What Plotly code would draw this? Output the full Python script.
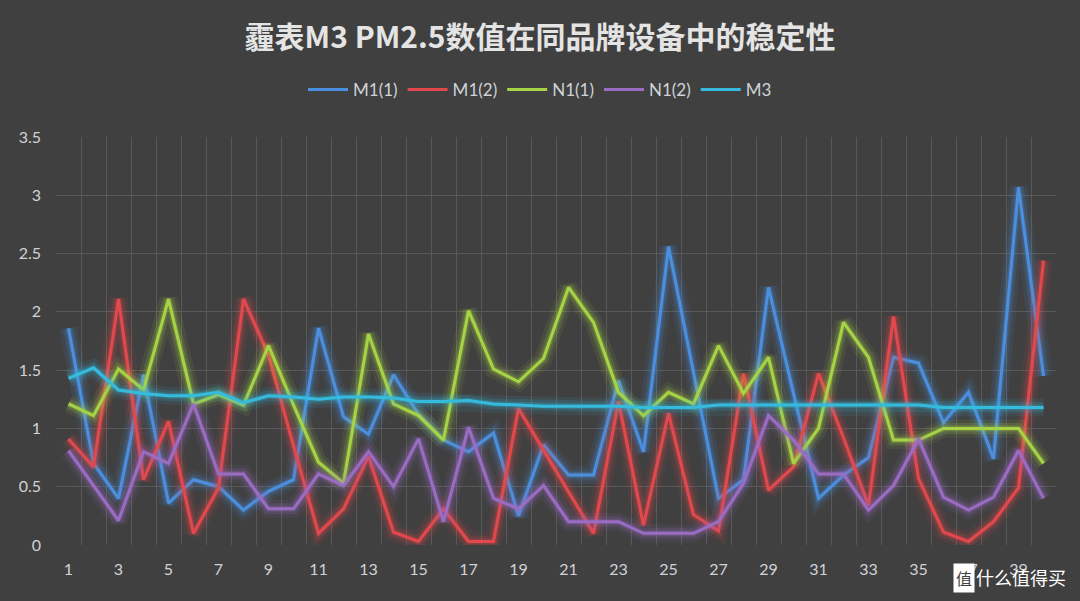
import plotly.graph_objects as go

x_vals = list(range(1, 41))

m1_1 = [1.86, 0.70, 0.40, 1.46, 0.36, 0.56, 0.50, 0.30, 0.46, 0.56,
        1.86, 1.10, 0.95, 1.46, 1.12, 0.90, 0.80, 0.96, 0.25, 0.86,
        0.60, 0.60, 1.41, 0.80, 2.56, 1.47, 0.40, 0.56, 2.21, 1.30,
        0.40, 0.60, 0.75, 1.61, 1.56, 1.05, 1.31, 0.74, 3.07, 1.45]
m1_2 = [0.91, 0.67, 2.11, 0.56, 1.06, 0.10, 0.49, 2.11, 1.63, 0.85,
        0.10, 0.31, 0.76, 0.11, 0.03, 0.31, 0.03, 0.03, 1.17, 0.81,
        0.45, 0.10, 1.23, 0.17, 1.13, 0.26, 0.12, 1.47, 0.47, 0.67,
        1.47, 0.92, 0.34, 1.96, 0.57, 0.11, 0.03, 0.20, 0.49, 2.44]
n1_1 = [1.21, 1.11, 1.51, 1.33, 2.11, 1.21, 1.29, 1.20, 1.71, 1.20,
        0.71, 0.53, 1.81, 1.21, 1.11, 0.90, 2.01, 1.51, 1.40, 1.60,
        2.21, 1.91, 1.31, 1.11, 1.31, 1.21, 1.71, 1.30, 1.61, 0.70,
        1.00, 1.91, 1.61, 0.90, 0.90, 1.00, 1.00, 1.00, 1.00, 0.70]
n1_2 = [0.81, 0.51, 0.21, 0.80, 0.70, 1.21, 0.61, 0.61, 0.31, 0.31,
        0.61, 0.51, 0.80, 0.50, 0.91, 0.20, 1.01, 0.40, 0.31, 0.51,
        0.20, 0.20, 0.20, 0.10, 0.10, 0.10, 0.20, 0.53, 1.11, 0.90,
        0.61, 0.61, 0.30, 0.51, 0.91, 0.41, 0.30, 0.41, 0.81, 0.40]
m3 = [1.43, 1.52, 1.33, 1.30, 1.28, 1.28, 1.31, 1.22, 1.28, 1.27,
      1.25, 1.27, 1.27, 1.26, 1.23, 1.23, 1.24, 1.21, 1.20, 1.19,
      1.19, 1.19, 1.19, 1.18, 1.18, 1.18, 1.20, 1.20, 1.20, 1.20,
      1.20, 1.20, 1.20, 1.20, 1.20, 1.18, 1.18, 1.18, 1.18, 1.18]

series_names = ["M1(1)", "M1(2)", "N1(1)", "N1(2)", "M3"]
series_values = [m1_1, m1_2, n1_1, n1_2, m3]
series_colors = [(75, 143, 222), (226, 72, 76), (166, 212, 68), (155, 108, 196), (52, 187, 222)]

x_tick_vals = list(range(1, 41, 2))
y_tick_vals = [0, 0.5, 1, 1.5, 2, 2.5, 3, 3.5]

title_text = "霾表M3 PM2.5数值在同品牌设备中的稳定性"

BG = "#404040"
GRID = "#595959"
TXT = "#cfd3d8"

fig = go.Figure()
for name, vals, (r, g, b) in zip(series_names, series_values, series_colors):
    for w, a in [(18, 0.09), (11, 0.16), (6, 0.25)]:
        fig.add_trace(go.Scatter(
            x=x_vals, y=vals, mode="lines", showlegend=False, hoverinfo="skip",
            line=dict(color=f"rgba({r},{g},{b},{a})", width=w)))
    fig.add_trace(go.Scatter(
        x=x_vals, y=vals, mode="lines", name=name,
        line=dict(color=f"rgb({r},{g},{b})", width=3)))

fig.update_layout(
    width=1080, height=601, autosize=False,
    paper_bgcolor=BG, plot_bgcolor=BG,
    margin=dict(l=56, r=24, t=137, b=56),
    title=dict(text=title_text, x=0.5, xanchor="center", y=1 - 37 / 601, yanchor="middle",
               yref="container",
               font=dict(family="Noto Sans CJK SC", size=30, color="#e4e4e4", weight="bold")),
    legend=dict(orientation="h", x=0.5, xanchor="center", xref="container",
                y=1 - 90 / 601, yanchor="middle", yref="container",
                font=dict(family="Lato", size=17, color=TXT),
                bgcolor="rgba(0,0,0,0)", itemwidth=40, tracegroupgap=0),
    xaxis=dict(range=[0.5, 40.5], tickmode="array", tickvals=x_tick_vals,
               ticktext=[str(v) for v in x_tick_vals], showgrid=False, zeroline=False,
               showline=False, ticks="", ticklabelstandoff=13,
               tickfont=dict(family="Lato", size=16, color=TXT),
               minor=dict(tickmode="linear", tick0=0.5, dtick=1, showgrid=True,
                          gridcolor=GRID, gridwidth=1, ticks="")),
    yaxis=dict(range=[0, 3.5], tickmode="array", tickvals=y_tick_vals,
               ticktext=[f"{v:g}" for v in y_tick_vals],
               showgrid=True, gridcolor=GRID, gridwidth=1, zeroline=False,
               showline=False, ticks="", ticklabelstandoff=14,
               tickfont=dict(family="Lato", size=16, color=TXT)),
    hovermode=False,
)

fig.add_annotation(text="什么值得买", xref="paper", yref="paper", x=1.012, y=-0.078,
                   xanchor="right", yanchor="middle", showarrow=False,
                   font=dict(family="Noto Sans CJK SC", size=18, color="#ffffff"))
fig.add_annotation(text="值", xref="paper", yref="paper", x=0.919, y=-0.08,
                   xanchor="right", yanchor="middle", showarrow=False,
                   bgcolor="#ffffff", borderpad=2,
                   font=dict(family="Noto Sans CJK SC", size=16, color="#404040"))

fig.write_html("out.html")
